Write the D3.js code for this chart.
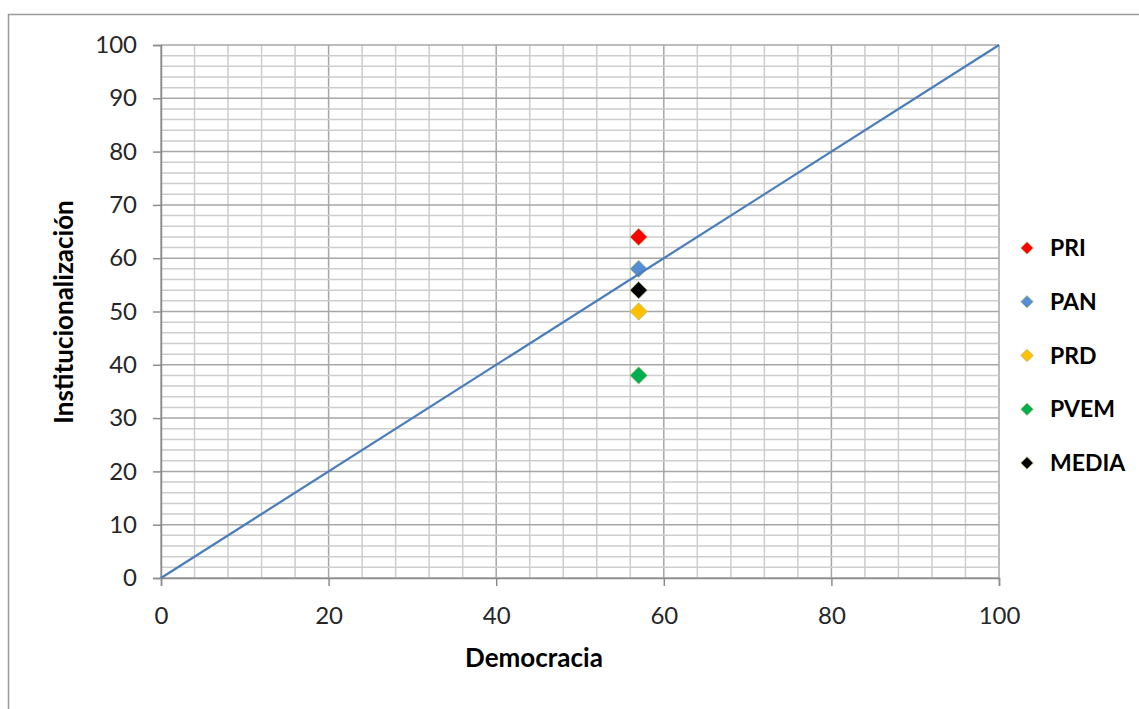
<!DOCTYPE html>
<html><head><meta charset="utf-8">
<script src="https://cdn.jsdelivr.net/npm/d3@7"></script>
<style>body{margin:0;background:#fff;}svg{display:block;}</style>
</head><body>
<svg id="c" width="1139" height="709"></svg>
<script>
const seriesNames = ["PRI","PAN","PRD","PVEM","MEDIA"];
const seriesColors = ["#ff0000","#558ed5","#ffc000","#00b050","#000000"];
const seriesX = [57,57,57,57,57];
const seriesY = [64,58,50,38,54];
const lineX = [0,100];
const lineY = [0,100];
const xTicks = [0,20,40,60,80,100];
const yTicks = [0,10,20,30,40,50,60,70,80,90,100];
const legendOrder = ["PRI","PAN","PRD","PVEM","MEDIA"];

const svg = d3.select("#c");
const font = "Lato, 'Open Sans', sans-serif";
// outer border
svg.append("rect").attr("x",8.5).attr("y",14.5).attr("width",1139).attr("height",709)
  .attr("fill","none").attr("stroke","#9a9a9a").attr("stroke-width",1.5);

const x = d3.scaleLinear().domain([0,100]).range([161,999]);
const y = d3.scaleLinear().domain([0,100]).range([578,45]);

const g = svg.append("g");
g.selectAll(".vminor").data(d3.range(0,101,4)).join("line")
  .attr("x1",d=>x(d)).attr("x2",d=>x(d)).attr("y1",y(0)).attr("y2",y(100))
  .attr("stroke",d=>d%20===0?"#a6a6a6":"#cdcdcd").attr("stroke-width",1.5);
g.selectAll(".hminor").data(d3.range(0,101,2)).join("line")
  .attr("y1",d=>y(d)).attr("y2",d=>y(d)).attr("x1",x(0)).attr("x2",x(100))
  .attr("stroke",d=>d%10===0?"#a6a6a6":"#cdcdcd").attr("stroke-width",1.5);

const xAxis = d3.axisBottom(x).tickValues(xTicks).tickSize(8).tickPadding(21).tickFormat(d3.format("d"));
const yAxis = d3.axisLeft(y).tickValues(yTicks).tickSize(8).tickPadding(16).tickFormat(d3.format("d"));
const gx = svg.append("g").attr("transform",`translate(0,${y(0)})`).call(xAxis);
const gy = svg.append("g").attr("transform",`translate(${x(0)},0)`).call(yAxis);
[gx,gy].forEach(a=>{
  a.selectAll("path").attr("stroke","#8c8c8c").attr("stroke-width",1.5);
  a.selectAll("line").attr("stroke","#8c8c8c").attr("stroke-width",1.5);
  a.selectAll("text").attr("font-family",font).attr("font-size",24).attr("fill","#262626");
});

const diamond = d3.symbol().type(d3.symbolDiamond2);
const pts = seriesNames.map((n,i)=>({n,c:seriesColors[i],x:seriesX[i],y:seriesY[i]}));
svg.selectAll(".pt").data(pts).join("path")
  .attr("d",diamond.size(190)())
  .attr("transform",d=>`translate(${x(d.x)},${y(d.y)})`)
  .attr("fill",d=>d.c).attr("stroke","#b5c27a").attr("stroke-width",0.8);

svg.append("path").datum(lineX.map((v,i)=>[v,lineY[i]]))
  .attr("d",d3.line().x(d=>x(d[0])).y(d=>y(d[1])))
  .attr("stroke","#4a7ebb").attr("stroke-width",2.25).attr("fill","none");

svg.append("text").attr("x",534).attr("y",667).attr("text-anchor","middle")
  .attr("font-family",font).attr("font-weight","bold").attr("font-size",26).attr("fill","#000").text("Democracia");
svg.append("text").attr("transform","translate(73,312) rotate(-90)").attr("text-anchor","middle")
  .attr("font-family",font).attr("font-weight","bold").attr("font-size",26).attr("fill","#000").text("Institucionalización");

const ly = d3.scalePoint().domain(legendOrder).range([248,463]);
const lg = svg.selectAll(".lg").data(legendOrder).join("g")
  .attr("transform",d=>`translate(1027,${ly(d)})`);
lg.append("path").attr("d",diamond.size(100)())
  .attr("fill",d=>seriesColors[seriesNames.indexOf(d)]).attr("stroke","#b5c27a").attr("stroke-width",0.8);
lg.append("text").attr("x",23).attr("y",8).attr("font-family",font).attr("font-weight","bold")
  .attr("font-size",23).attr("fill","#000").text(d=>d);
</script>
</body></html>
